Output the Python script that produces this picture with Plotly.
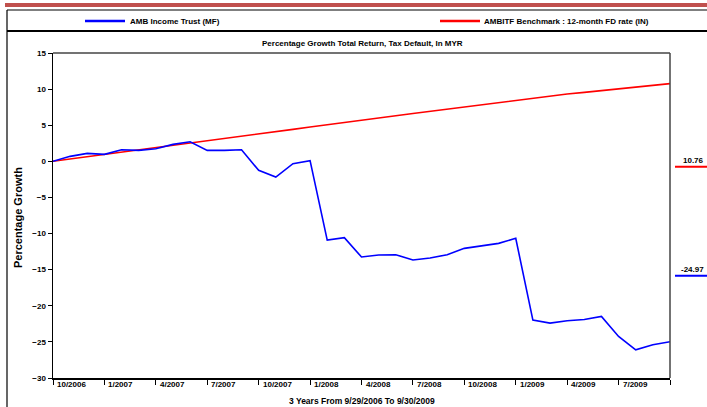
import plotly.graph_objects as go

# ---- data ----
tick_labels = ["10/2006", "1/2007", "4/2007", "7/2007", "10/2007", "1/2008",
               "4/2008", "7/2008", "10/2008", "1/2009", "4/2009", "7/2009"]
months = list(range(37))  # 9/2006 .. 9/2009, monthly
fund = [0.00, 0.69, 1.10, 0.97, 1.60, 1.52, 1.75, 2.35, 2.70, 1.52,
        1.52, 1.60, -1.25, -2.17, -0.32, 0.09, -10.90, -10.57, -13.25, -12.97,
        -12.93, -13.67, -13.39, -12.93, -12.05, -11.68, -11.36, -10.66, -21.98, -22.40,
        -22.07, -21.90, -21.47, -24.24, -26.10, -25.40, -24.97]
bench = [0.00, 0.31, 0.62, 0.93, 1.24, 1.55, 1.86, 2.17, 2.49, 2.81,
         3.13, 3.45, 3.78, 4.10, 4.43, 4.76, 5.09, 5.41, 5.72, 6.02,
         6.32, 6.62, 6.92, 7.24, 7.56, 7.88, 8.20, 8.48, 8.76, 9.04,
         9.32, 9.55, 9.78, 10.01, 10.24, 10.50, 10.76]
fund_name = "AMB Income Trust (MF)"
bench_name = "AMBITF Benchmark : 12-month FD rate (IN)"
title = "Percentage Growth Total Return, Tax Default, In MYR"
x_title = "3 Years From 9/29/2006 To 9/30/2009"
y_title = "Percentage Growth"

W, H = 707, 407
L, R, T, B = 53, 37, 53, 29
PW, PH = W - L - R, H - T - B


def px(x):
    return (x - L) / PW


def py(y):
    return (H - B - y) / PH


FONT = "Liberation Sans Narrow, Arial Narrow, Liberation Sans, Arial, sans-serif"
SMALL = dict(family=FONT, size=8, color="#000", weight="bold")

fig = go.Figure()
fig.add_trace(go.Scatter(x=months, y=bench, mode="lines", name=bench_name,
                         line=dict(color="#ff0000", width=1.6)))
fig.add_trace(go.Scatter(x=months, y=fund, mode="lines", name=fund_name,
                         line=dict(color="#0000ff", width=1.6)))

shapes = []
ann = []

# top decorative band and outer box
shapes.append(dict(type="rect", xref="paper", yref="paper", x0=px(5), x1=px(710),
                   y0=py(7), y1=py(3), fillcolor="#c0504d", line=dict(width=0), layer="above"))
shapes.append(dict(type="line", xref="paper", yref="paper", x0=px(7), x1=px(710),
                   y0=py(10), y1=py(10), line=dict(color="#000", width=1.2)))
shapes.append(dict(type="line", xref="paper", yref="paper", x0=px(7), x1=px(7),
                   y0=py(10), y1=py(410), line=dict(color="#000", width=1.2)))
shapes.append(dict(type="line", xref="paper", yref="paper", x0=px(7), x1=px(710),
                   y0=py(31), y1=py(31), line=dict(color="#000", width=2)))

# plot frame top / right in grey
shapes.append(dict(type="line", xref="paper", yref="paper", x0=0, x1=1, y0=1, y1=1,
                   line=dict(color="#444", width=1.5)))
shapes.append(dict(type="line", xref="paper", yref="paper", x0=1, x1=1, y0=0, y1=1,
                   line=dict(color="#444", width=1.5)))

# legend
shapes.append(dict(type="line", xref="paper", yref="paper", x0=px(85), x1=px(125),
                   y0=py(21), y1=py(21), line=dict(color="#0000ff", width=2.5)))
shapes.append(dict(type="line", xref="paper", yref="paper", x0=px(440), x1=px(480),
                   y0=py(21), y1=py(21), line=dict(color="#ff0000", width=2.5)))
ann.append(dict(text=fund_name, xref="paper", yref="paper", x=px(128), y=py(21),
                xanchor="left", yanchor="middle", showarrow=False, font=SMALL))
ann.append(dict(text=bench_name, xref="paper", yref="paper", x=px(482), y=py(21),
                xanchor="left", yanchor="middle", showarrow=False, font=SMALL))

# title
ann.append(dict(text=title, xref="paper", yref="paper", x=px(362), y=py(43),
                xanchor="center", yanchor="middle", showarrow=False, font=SMALL))
# axis titles
ann.append(dict(text=x_title, xref="paper", yref="paper", x=px(362), y=py(401),
                xanchor="center", yanchor="middle", showarrow=False,
                font=dict(family=FONT, size=8.5, color="#000", weight="bold")))
ann.append(dict(text=y_title, xref="paper", yref="paper", x=px(18), y=py(218),
                xanchor="center", yanchor="middle", showarrow=False, textangle=-90,
                font=dict(family="Liberation Sans, Arial, sans-serif", size=11,
                          color="#000", weight="bold")))

# x tick labels (placed right of ticks)
for i, lab in enumerate(tick_labels):
    ann.append(dict(text=lab, xref="x", yref="paper", x=months[i * 3], y=py(384.5),
                    xanchor="left", yanchor="middle", xshift=2, showarrow=False,
                    font=SMALL))

# end-value markers on the right
shapes.append(dict(type="line", xref="paper", yref="paper", x0=px(675), x1=px(710),
                   y0=py(166.7), y1=py(166.7), line=dict(color="#ff0000", width=2)))
shapes.append(dict(type="line", xref="paper", yref="paper", x0=px(675), x1=px(710),
                   y0=py(275.7), y1=py(275.7), line=dict(color="#0000ff", width=2)))
ann.append(dict(text=f"{bench[-1]:.2f}", xref="paper", yref="paper", x=px(706), y=py(160),
                xanchor="right", yanchor="middle", showarrow=False, font=SMALL))
ann.append(dict(text=f"{fund[-1]:.2f}", xref="paper", yref="paper", x=px(706), y=py(269),
                xanchor="right", yanchor="middle", showarrow=False, font=SMALL))

fig.update_layout(
    width=W, height=H,
    margin=dict(l=L, r=R, t=T, b=B, pad=0, autoexpand=False),
    paper_bgcolor="white", plot_bgcolor="white",
    showlegend=False, hovermode=False,
    shapes=shapes, annotations=ann,
    xaxis=dict(range=[0, 36], tickvals=list(range(0, 37, 3)), showticklabels=False,
               ticks="outside", ticklen=5, tickcolor="#000", tickwidth=1,
               showline=True, linecolor="#000", linewidth=1.5, automargin=False,
               showgrid=False, zeroline=False, fixedrange=True),
    yaxis=dict(range=[-30, 15], tickvals=list(range(-30, 16, 5)),
               ticks="outside", ticklen=4, tickcolor="#000", tickwidth=1,
               showline=True, linecolor="#000", linewidth=1.5, automargin=False,
               showgrid=False, zeroline=False, tickfont=SMALL, fixedrange=True),
)

fig.write_html("out.html", config={"displayModeBar": False, "staticPlot": True},
               post_script="document.body.style.margin='0';document.body.style.overflow='hidden';")
